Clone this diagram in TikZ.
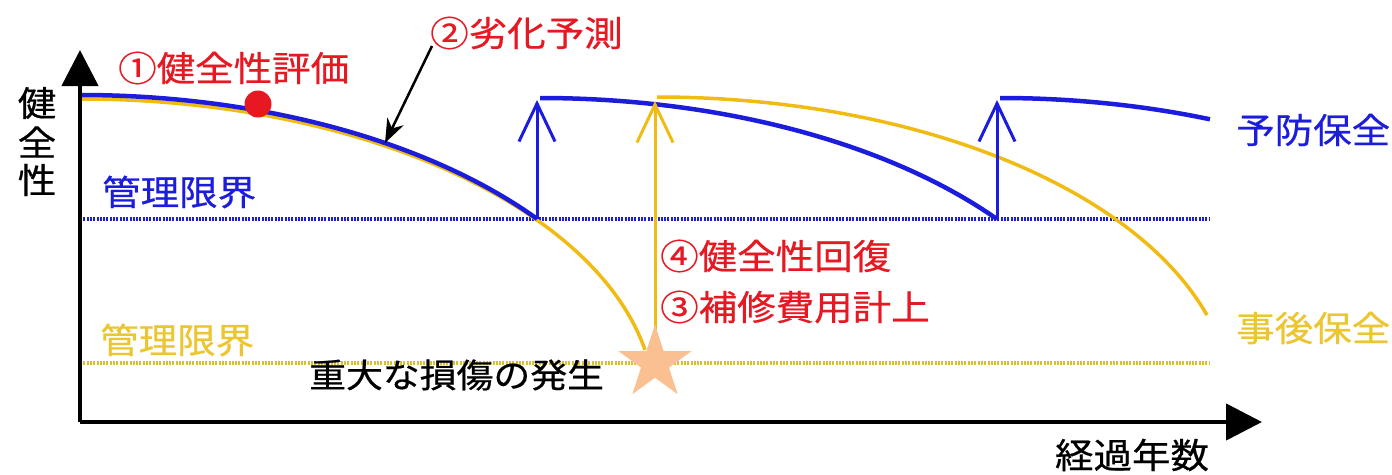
\documentclass[tikz,border=0pt]{standalone}
\usepackage{fontspec}
\setmainfont{Noto Sans CJK JP}[FakeStretch=1.1, FakeBold=0.6]
\usetikzlibrary{arrows.meta,shapes.geometric}
\definecolor{cblue}{RGB}{28,28,220}
\definecolor{cyel}{RGB}{240,188,20}
\definecolor{cyeltxt}{RGB}{236,198,50}
\definecolor{cdotyel}{RGB}{215,195,40}
\definecolor{cred}{RGB}{230,25,35}
\definecolor{cstar}{RGB}{250,192,145}
\begin{document}
\begin{tikzpicture}[x=1pt,y=-1pt,
  lab/.style={inner sep=0pt, font=\fontsize{35}{38}\selectfont},
  axis/.style={line width=4.5pt, -{Triangle[length=36pt,width=36pt]}},
  bluecurve/.style={cblue, line width=4.5pt},
  yelcurve/.style={cyel, line width=3.5pt},
  bluearrow/.style={cblue, line width=3pt, -{Straight Barb[length=38pt,width=36pt]}},
  yelarrow/.style={cyel, line width=3pt, -{Straight Barb[length=38pt,width=36pt]}},
  limitline/.style={line width=3.2pt, dash pattern=on 2pt off 1.3pt}
]
\useasboundingbox (0,0) rectangle (1392,474);
% coordinates
\coordinate (o) at (80,422);
\coordinate (ytop) at (80,50);
\coordinate (xend) at (1262,422);
\coordinate (bl1) at (80,219);
\coordinate (bl2) at (1210,219);
\coordinate (yl1) at (80,363);
\coordinate (yl2) at (1210,363);
% limit lines
\draw[limitline, cblue] (bl1) -- (bl2);
\draw[limitline, cdotyel] (yl1) -- (yl2);
% yellow curves
\draw[yelcurve] (80,99) arc[start angle=-90, end angle=-10.7, x radius=575, y radius=308];
\draw[yelcurve] (657,97) arc[start angle=-90, end angle=-16.97, x radius=575, y radius=308];
% blue curves
\draw[bluecurve] (80,95) arc[start angle=-90, end angle=-37.35, x radius=575, y radius=315];
\draw[bluecurve] (540,98) arc[start angle=-90, end angle=-37.35, x radius=575, y radius=308];
\draw[bluecurve] (1000,98) arc[start angle=-90, end angle=-68.58, x radius=575, y radius=308];
% recovery arrows
\coordinate (ba1s) at (537,219);
\coordinate (ba1e) at (537,100);
\coordinate (ba2s) at (997,219);
\coordinate (ba2e) at (997,100);
\coordinate (yae) at (655,101);
\draw[bluearrow] (ba1s) -- (ba1e);
\draw[bluearrow] (ba2s) -- (ba2e);
\node[star, star points=5, star point ratio=2.618, minimum size=77pt, inner sep=0pt] (star) at (655,363) {};
\draw[yelarrow] (star.center) -- (yae);
\node[star, star points=5, star point ratio=2.618, fill=cstar, minimum size=77pt, inner sep=0pt] at (655,363) {};
% axes
\draw[axis] (o) -- (ytop);
\draw[axis] (o) -- (xend);
% red dot
\node[circle, fill=cred, minimum size=27pt, inner sep=0pt] (dot) at (258,104) {};
% prediction arrow
\coordinate (pa1) at (432,46);
\coordinate (pa2) at (385,143);
\draw[line width=2.5pt, -{Stealth[length=24pt,width=18pt]}] (pa1) -- (pa2);
% labels
\node[lab, text=cred, anchor=west] (l1) at (118,68) {①健全性評価};
\node[lab, text=cred, anchor=west] (l2) at (430,33) {②劣化予測};
\node[lab, text=cblue, anchor=west] (l3) at (1236,130) {予防保全};
\node[lab, text=cyeltxt, anchor=west] (l4) at (1236,328) {事後保全};
\node[lab, text=cred, anchor=west] (l5) at (660,256) {④健全性回復};
\node[lab, text=cred, anchor=west] (l6) at (660,307) {③補修費用計上};
\node[lab, font=\fontsize{33.5}{38}\selectfont, anchor=west] (l7) at (309,375) {重大な損傷の発生};
\node[lab] (l8) at (1132,455) {経過年数};
\node[lab, text=cblue, anchor=west] (l9) at (102,192) {管理限界};
\node[lab, text=cyeltxt, anchor=west] (l10) at (100,340) {管理限界};
\node[lab] (y1) at (37,103) {健};
\node[lab] (y2) at (37,142) {全};
\node[lab] (y3) at (37,180) {性};
\end{tikzpicture}
\end{document}
